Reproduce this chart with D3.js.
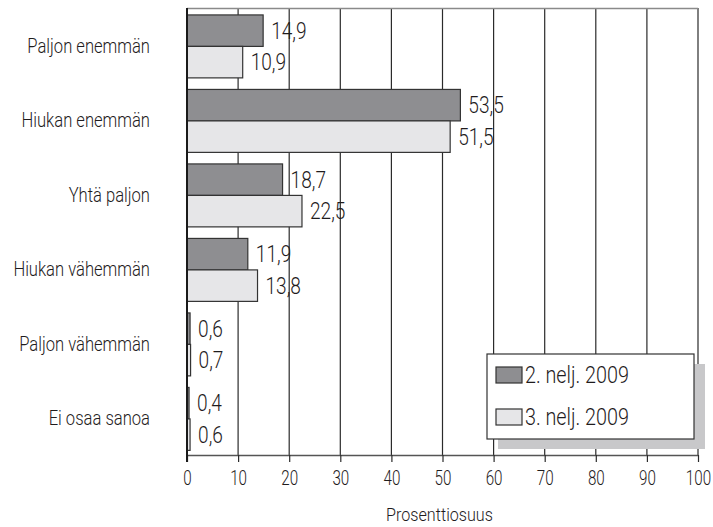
<!DOCTYPE html>
<html>
<head>
<meta charset="utf-8">
<script src="https://cdn.jsdelivr.net/npm/d3@7"></script>
<style>
  body { margin: 0; background: #fff; }
  svg text { font-family: "Roboto", sans-serif; font-weight: 300; fill: #1f1c1d; }
</style>
</head>
<body>
<div class="container"></div>
<script>
// data
const categories = ["Paljon enemmän", "Hiukan enemmän", "Yhtä paljon", "Hiukan vähemmän", "Paljon vähemmän", "Ei osaa sanoa"]
const seriesNames = ["2. nelj. 2009", "3. nelj. 2009"]
const q2 = [14.9, 53.5, 18.7, 11.9, 0.6, 0.4]
const q3 = [10.9, 51.5, 22.5, 13.8, 0.7, 0.6]
const xTicks = [0, 10, 20, 30, 40, 50, 60, 70, 80, 90, 100]

const w = 713
const h = 527
const margin = {top: 8, right: 15, bottom: 72, left: 187}
const colors = ["#8e8e91", "#e6e6e8"]

const rows = categories.map((c, i) => ({cat: c, vals: [q2[i], q3[i]]}))

// the original uses a condensed face, squeeze Roboto horizontally
function narrow(sel, sx, xf) {
  sel.attr("x", (d, i) => xf(d, i) / sx)
     .attr("transform", `scale(${sx},1)`)
}

const svg = d3.select(".container")
  .append("svg")
  .attr("width", w)
  .attr("height", h)

const x = d3.scaleLinear()
  .domain([0, 100])
  .range([margin.left, w - margin.right])

const y = d3.scaleBand()
  .domain(categories)
  .range([margin.top, h - margin.bottom])
  .paddingInner(0.155)
  .paddingOuter(0.0775)
  .align(0.6)

const ySub = d3.scaleBand()
  .domain([0, 1])
  .range([0, y.bandwidth()])

// vertical grid
svg.append("g")
  .selectAll("line")
  .data(xTicks.slice(1))
  .enter()
  .append("line")
  .attr("x1", d => x(d))
  .attr("x2", d => x(d))
  .attr("y1", margin.top)
  .attr("y2", h - margin.bottom)
  .attr("stroke", "#2b2b2b")
  .attr("stroke-width", 1.2)

// top border
svg.append("line")
  .attr("x1", x(0))
  .attr("x2", x(100))
  .attr("y1", margin.top + 0.5)
  .attr("y2", margin.top + 0.5)
  .attr("stroke", "#8a8a8a")
  .attr("stroke-width", 1.5)

// bars
const groups = svg.append("g")
  .selectAll("g")
  .data(rows)
  .enter()
  .append("g")
  .attr("transform", d => `translate(0,${y(d.cat)})`)

groups.selectAll("rect")
  .data(d => d.vals)
  .enter()
  .append("rect")
  .attr("x", x(0))
  .attr("y", (d, i) => ySub(i))
  .attr("width", d => x(d) - x(0))
  .attr("height", ySub.bandwidth())
  .attr("fill", (d, i) => colors[i])
  .attr("stroke", "#333")
  .attr("stroke-width", 1.2)

groups.selectAll("text")
  .data(d => d.vals)
  .enter()
  .append("text")
  .attr("y", (d, i) => ySub(i) + ySub.bandwidth() / 2)
  .attr("dy", "0.36em")
  .attr("font-size", 23)
  .text(d => d3.format(".1f")(d).replace(".", ","))
  .call(narrow, 0.83, d => x(d) + 8)

// category labels
svg.append("g")
  .selectAll("text")
  .data(categories)
  .enter()
  .append("text")
  .attr("y", d => y(d) + y.bandwidth() / 2 - 1)
  .attr("dy", "0.36em")
  .attr("text-anchor", "end")
  .attr("font-size", 20)
  .text(d => d)
  .call(narrow, 0.83, () => 150)

// x axis
const xAxis = d3.axisBottom(x)
  .tickValues(xTicks)
  .tickSize(7)
  .tickPadding(9)
  .tickSizeOuter(0)

const gx = svg.append("g")
  .attr("transform", `translate(0,${h - margin.bottom})`)
  .call(xAxis)
gx.select(".domain").attr("stroke", "#555").attr("stroke-width", 1.5)
gx.selectAll(".tick line").attr("stroke", "#2b2b2b").attr("stroke-width", 1.2)
gx.selectAll(".tick text")
  .attr("font-size", 20)
  .attr("font-family", null)
  .attr("fill", "#1f1c1d")
  .attr("transform", "scale(0.76,1)")

// left axis line
svg.append("line")
  .attr("x1", x(0))
  .attr("x2", x(0))
  .attr("y1", margin.top)
  .attr("y2", h - margin.bottom + 7)
  .attr("stroke", "#1a1a1a")
  .attr("stroke-width", 2)

svg.append("text")
  .attr("y", 521)
  .attr("text-anchor", "middle")
  .attr("font-size", 19)
  .text("Prosenttiosuus")
  .call(narrow, 0.85, () => (x(0) + x(100)) / 2 - 3)

// legend
const lg = svg.append("g").attr("transform", "translate(487,354)")
lg.append("rect")
  .attr("x", 11).attr("y", 10)
  .attr("width", 207).attr("height", 85)
  .attr("fill", "#c8c8ca")
lg.append("rect")
  .attr("width", 207).attr("height", 85)
  .attr("fill", "#fff")
  .attr("stroke", "#333")
  .attr("stroke-width", 1.2)

const items = lg.selectAll(".item")
  .data(seriesNames)
  .enter()
  .append("g")
  .attr("transform", (d, i) => `translate(9,${13 + i * 42})`)
items.append("rect")
  .attr("width", 26).attr("height", 16)
  .attr("fill", (d, i) => colors[i])
  .attr("stroke", "#333")
  .attr("stroke-width", 1.2)
items.append("text")
  .attr("y", 8)
  .attr("dy", "0.36em")
  .attr("font-size", 23)
  .text(d => d)
  .call(narrow, 0.86, () => 29)
</script>
</body>
</html>
